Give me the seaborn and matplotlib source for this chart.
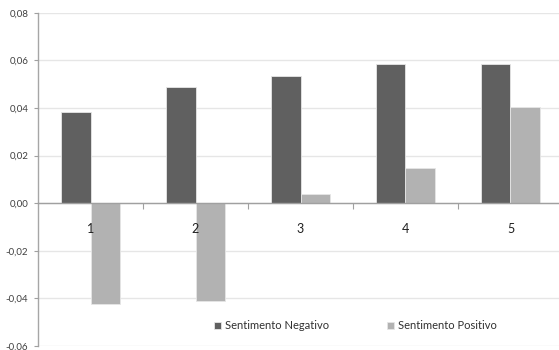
import matplotlib
matplotlib.use("Agg")
import matplotlib.pyplot as plt
import seaborn as sns
import pandas as pd
from matplotlib.ticker import FixedLocator, FuncFormatter

categories = ["1", "2", "3", "4", "5"]
negativo = [0.0383, 0.0487, 0.0536, 0.0583, 0.0585]
positivo = [-0.0424, -0.0413, 0.0038, 0.0146, 0.0403]
series_names = ["Sentimento Negativo", "Sentimento Positivo"]
yticks = [-0.06, -0.04, -0.02, 0.00, 0.02, 0.04, 0.06, 0.08]

df = pd.DataFrame({
    "grupo": categories * 2,
    "valor": negativo + positivo,
    "serie": [series_names[0]] * 5 + [series_names[1]] * 5,
})

sns.set_style("white")
plt.rcParams["font.family"] = ["Lato", "DejaVu Sans"]

fig = plt.figure(figsize=(5.59, 3.5), dpi=100)
ax = fig.add_axes([0.068, 0.0114, 0.932, 0.9523])

sns.barplot(data=df, x="grupo", y="valor", hue="serie", ax=ax,
            palette=["#606060", "#b2b2b2"], width=0.571,
            edgecolor="#e6e6e6", linewidth=0.6, saturation=1, zorder=2)

ax.set_xlim(-0.5, 4.462)
ax.set_ylim(-0.06, 0.08)
ax.set_xlabel("")
ax.set_ylabel("")

# axis (and its labels) above the bars, gridlines below them
ax.set_axisbelow(False)
ax.grid(False)
for v in yticks:
    ax.axhline(v, color="#e6e6e6", linewidth=1, zorder=1)

ax.yaxis.set_major_locator(FixedLocator(yticks))
ax.yaxis.set_major_formatter(FuncFormatter(lambda v, p: f"{v:.2f}".replace(".", ",")))
ax.tick_params(axis="y", labelsize=7, labelcolor="#404040", color="#a0a0a0",
               length=3, width=0.8, direction="out", left=True, pad=4)

# category axis along zero
for s in ["top", "right"]:
    ax.spines[s].set_visible(False)
ax.spines["left"].set_color("#a6a6a6")
ax.spines["left"].set_linewidth(1)
ax.spines["bottom"].set_position(("data", 0))
ax.spines["bottom"].set_color("#a0a0a0")
ax.spines["bottom"].set_linewidth(1)
ax.set_xticks(range(len(categories)))
ax.set_xticklabels(categories)
ax.tick_params(axis="x", which="major", length=0, labelsize=9, colors="#202020", pad=14)
ax.set_xticks([0.5, 1.5, 2.5, 3.5], minor=True)
ax.tick_params(axis="x", which="minor", length=4, width=0.8, color="#a0a0a0",
               direction="out", bottom=True)

handles, labels = ax.get_legend_handles_labels()
ax.legend(handles, labels, loc="lower center", bbox_to_anchor=(0.61, 0.015),
          ncol=2, frameon=False, fontsize=8, handlelength=0.6, handleheight=0.6,
          handletextpad=0.4, columnspacing=5.2, labelcolor="#303030")

fig.savefig("out.png", dpi=100)
